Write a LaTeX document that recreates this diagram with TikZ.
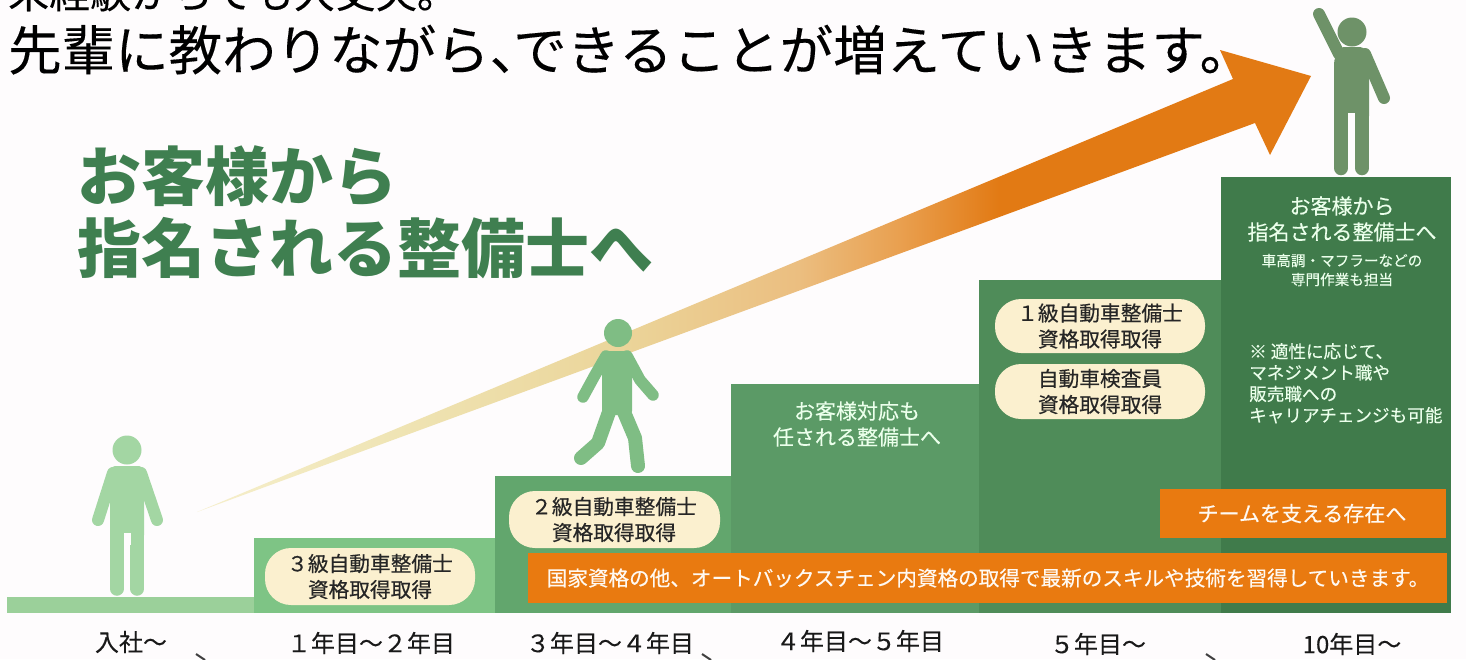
\documentclass[tikz,border=0pt]{standalone}
\usepackage{fontspec}
\setmainfont{Noto Sans CJK JP}
\newfontfamily\jpm[FakeBold=0.4]{Noto Sans CJK JP}
\newfontfamily\jpl[FakeBold=0.2]{Noto Sans CJK JP}
\newcommand{\fs}[2]{\fontsize{#1}{#2}\selectfont}
\definecolor{bgc}{HTML}{FEFCFD}
\definecolor{s0}{HTML}{9BD09A}
\definecolor{s1}{HTML}{7EC485}
\definecolor{s2}{HTML}{62A66D}
\definecolor{s3}{HTML}{5B9A66}
\definecolor{s4}{HTML}{4F8C59}
\definecolor{s5}{HTML}{407B4B}
\definecolor{org}{HTML}{E97A10}
\definecolor{crm}{HTML}{FBF0CF}
\definecolor{ttl}{HTML}{3F7F50}
\definecolor{fa}{HTML}{A3D6A3}
\definecolor{fb}{HTML}{7FBD84}
\definecolor{fc}{HTML}{6E9268}
\definecolor{ga}{HTML}{F6EFCC}
\definecolor{gb}{HTML}{EFE4B4}
\definecolor{gc}{HTML}{EBD59A}
\definecolor{gd}{HTML}{EBBE80}
\definecolor{ge}{HTML}{E9A050}
\definecolor{gf}{HTML}{E27A14}
\pgfdeclarehorizontalshading{arrowgrad}{100bp}{
 color(0bp)=(ga);
 color(25bp)=(ga);
 color(34bp)=(gb);
 color(44bp)=(gc);
 color(52bp)=(gd);
 color(56.5bp)=(ge);
 color(61bp)=(gf);
 color(100bp)=(gf)}
\tikzset{
 stepbox/.style={fill=#1,draw=none},
 pill/.style={fill=crm,draw=none,rounded corners=26pt},
 orgbox/.style={fill=org,draw=none},
 lbl/.style={inner sep=0pt,align=center,text=black!90},
 onpill/.style={lbl,font=\jpm\fs{20.7}{26},text=black!85},
 onstep/.style={lbl,font=\jpl\fs{21}{26},text=white!92!green},
 onorg/.style={lbl,font=\jpm\fs{20.6}{26},text=white!95!orange},
 yearlbl/.style={lbl,font=\jpl\fs{24}{26}},
 limb/.style={draw=#1,line cap=round,line join=round},
}
\begin{document}
\begin{tikzpicture}[x=1pt,y=-1pt]
\useasboundingbox (0,0) rectangle (1466,659);
\clip (0,0) rectangle (1466,659);
\fill[bgc] (0,0) rectangle (1466,659);
% steps
\fill[stepbox=s0] (7,597) rectangle (254,613);
\fill[stepbox=s1] (254,538) rectangle (495,613);
\fill[stepbox=s2] (495,476) rectangle (731,613);
\fill[stepbox=s3] (731,384) rectangle (979,613);
\fill[stepbox=s4] (979,280) rectangle (1221,613);
\fill[stepbox=s5] (1221,177) rectangle (1451,613);
% arrow
\path[shading=arrowgrad] (197,512) -- (1233,79) -- (1220,50) -- (1311,76) -- (1270,155) -- (1255,123) -- cycle;
% boxes
\fill[orgbox] (528,553) rectangle (1447,603);
\fill[orgbox] (1160,489) rectangle (1446,538);
\fill[pill] (265,548) rectangle (475,605);
\fill[pill] (509,491) rectangle (720,548);
\fill[pill] (995,299) rectangle (1205,353);
\fill[pill] (995,364) rectangle (1205,419);
% titles
\node[lbl,anchor=base west,font=\jpl\fs{41}{44},text=black] (t1) at (8,8) {未経験からでも大丈夫。};
\node[lbl,anchor=base west,font=\jpl\fs{53.5}{56},text=black] (t2) at (8,70) {先輩に教わりながら、\kern-30pt できることが増えていきます。};
\node[lbl,anchor=base west,align=left,text=ttl,font=\bfseries\fs{64}{72}] (big) at (77,272) {お客様から\\指名される整備士へ};
% labels
\node[onpill] (p1) at (370,576.5) {３級自動車整備士\\資格取得取得};
\node[onpill] (p2) at (614,519.5) {２級自動車整備士\\資格取得取得};
\node[onpill] (p3) at (1100,326) {１級自動車整備士\\資格取得取得};
\node[onpill] (p4) at (1100,391.5) {自動車検査員\\資格取得取得};
\node[onstep] (s3t) at (857,424) {お客様対応も\\任される整備士へ};
\node[onstep] (s5t) at (1342,219) {お客様から\\指名される整備士へ};
\node[lbl,text=white!92!green,font=\jpl\fs{14.6}{19}] (s5u) at (1342,270) {車高調・マフラーなどの\\専門作業も担当};
\node[lbl,anchor=north west,align=left,text=white!92!green,font=\jpl\fs{17.6}{21.3}] (s5n) at (1249,343) {※ 適性に応じて、\\マネジメント職や\\販売職への\\キャリアチェンジも可能};
\node[lbl,font=\jpm\fs{21}{26},text=white!95!orange] (o1) at (1302,513.5) {チームを支える存在へ};
\node[onorg] (o2) at (988,578) {国家資格の他、オートバックスチェン内資格の取得で最新のスキルや技術を習得していきます。};
\node[yearlbl] (y0) at (131,642) {入社～};
\node[yearlbl] (y1) at (371,643) {１年目～２年目};
\node[yearlbl] (y2) at (610,643) {３年目～４年目};
\node[yearlbl] (y3) at (860,641) {４年目～５年目};
\node[yearlbl] (y4) at (1098,644) {５年目～};
\node[yearlbl] (y5) at (1352,644) {10年目～};
% standing figure
\fill[fa] (127,450) circle (14.5);
\fill[fa,rounded corners=5pt] (110,466) -- (144,466) -- (144,540) -- (110,540) -- cycle;
\draw[limb=fa,line width=13.5pt] (116.8,535) -- (116.8,589);
\draw[limb=fa,line width=13.5pt] (137.2,535) -- (137.2,589);
\draw[limb=fa,line width=12pt] (113,473) -- (98,520);
\draw[limb=fa,line width=12pt] (141,473) -- (157,520);
\fill[bgc] (123.5,533) rectangle (130.5,545);
% walking figure
\fill[fb] (618,333) circle (14);
\fill[fb,rounded corners=4pt] (605,351) -- (628,351) -- (632,362) -- (632,415) -- (602,415) -- (602,362) -- cycle;
\draw[limb=fb,line width=11.5pt] (606,356) -- (595,375) -- (583,397);
\draw[limb=fb,line width=11.5pt] (627,356) -- (640,380) -- (653,395);
\draw[limb=fb,line width=14pt] (609,412) -- (598,443) -- (581,458);
\draw[limb=fb,line width=14pt] (624,412) -- (635,438) -- (638,466);
% raised-arm figure
\fill[fc] (1352,32) circle (14.5);
\fill[fc,rounded corners=4pt] (1334,60) -- (1340,47) -- (1364,47) -- (1369,58) -- (1369,120) -- (1334,120) -- cycle;
\draw[limb=fc,line width=14.5pt] (1341,115) -- (1341,168);
\draw[limb=fc,line width=14.5pt] (1362,115) -- (1362,168);
\draw[limb=fc,line width=12pt] (1319,14) -- (1339,54);
\draw[limb=fc,line width=12pt] (1365,54) -- (1384,98);
\fill[bgc] (1348.3,113) rectangle (1354.7,135);
% partial chevrons at bottom edge
\draw[black!75,line width=2pt] (196,654) -- (205,660);
\draw[black!75,line width=2pt] (702,654) -- (711,660);
\draw[black!75,line width=2pt] (1206,654) -- (1215,660);
\end{tikzpicture}
\end{document}
